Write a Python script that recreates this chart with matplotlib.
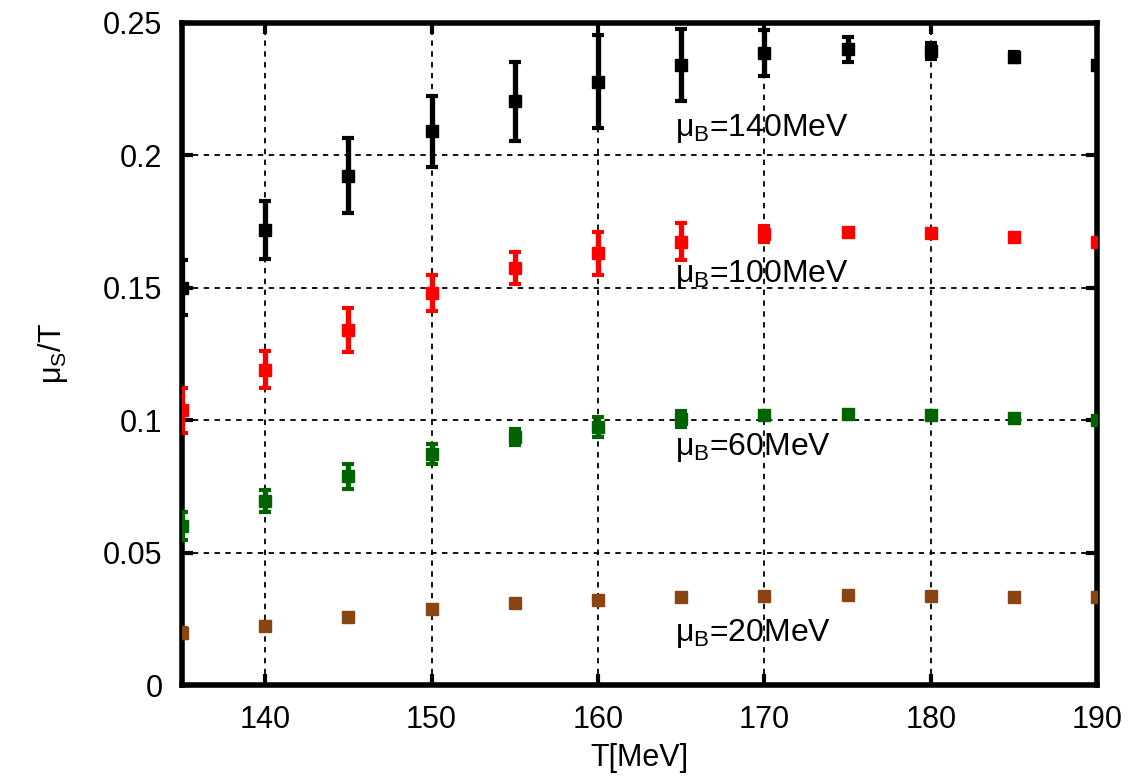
import numpy as np
import matplotlib.pyplot as plt

plt.rcParams['font.family'] = ['Liberation Sans', 'DejaVu Sans']
plt.rcParams['mathtext.fontset'] = 'custom'
plt.rcParams['mathtext.rm'] = 'Liberation Sans'
plt.rcParams['mathtext.it'] = 'Liberation Sans'

T = [135, 140, 145, 150, 155, 160, 165, 170, 175, 180, 185, 190]

# mu_B = 140 MeV
mu140 = [0.150, 0.1718, 0.1922, 0.2090, 0.2203, 0.2278, 0.2341, 0.2385, 0.2400, 0.2392, 0.2370, 0.2341]
err140 = [0.0105, 0.0108, 0.0142, 0.0134, 0.0150, 0.0175, 0.0135, 0.0086, 0.0047, 0.0030, 0.0020, 0.0010]
# mu_B = 100 MeV
mu100 = [0.1038, 0.1190, 0.1341, 0.1479, 0.1573, 0.1630, 0.1674, 0.1703, 0.1709, 0.1706, 0.1693, 0.1673]
err100 = [0.0085, 0.0070, 0.0082, 0.0067, 0.0061, 0.0082, 0.0069, 0.0030, 0.0010, 0.0008, 0.0006, 0.0005]
# mu_B = 60 MeV
mu60 = [0.0600, 0.0696, 0.0789, 0.0872, 0.0938, 0.0975, 0.1003, 0.1020, 0.1025, 0.1018, 0.1010, 0.1001]
err60 = [0.0053, 0.0041, 0.0047, 0.0038, 0.0030, 0.0038, 0.0030, 0.0012, 0.0008, 0.0008, 0.0006, 0.0005]
# mu_B = 20 MeV
mu20 = [0.0196, 0.0225, 0.0257, 0.0287, 0.0309, 0.0322, 0.0332, 0.0337, 0.0340, 0.0338, 0.0332, 0.0332]
err20 = [0.0020, 0.0012, 0.0010, 0.0008, 0.0006, 0.0006, 0.0005, 0.0005, 0.0005, 0.0004, 0.0004, 0.0004]

mu_b = [140, 100, 60, 20]
label_y = [0.2071, 0.1523, 0.0869, 0.0167]
colors = ['black', '#ff0000', '#006400', '#8b4513']
values = [mu140, mu100, mu60, mu20]
errors = [err140, err100, err60, err20]

fig = plt.figure(figsize=(11.3, 7.83), dpi=100)
ax = fig.add_axes([0.161, 0.125, 0.81, 0.846])

for y, e, c, mb, ylab in zip(values, errors, colors, mu_b, label_y):
    ax.errorbar(T, y, yerr=e, fmt='s', color=c, ms=8, mec=c,
                elinewidth=3.8, capsize=4, capthick=3, zorder=3)
    ax.text(164.6, ylab, r'$\mu_B$=%dMeV' % mb, fontsize=23, va='baseline', ha='left',
            zorder=4)

ax.set_xlim(135, 190)
ax.set_ylim(0, 0.25)
ax.set_xticks([140, 150, 160, 170, 180, 190])
ax.set_yticks([0, 0.05, 0.1, 0.15, 0.2, 0.25])
ax.set_yticklabels(['0', '0.05', '0.1', '0.15', '0.2', '0.25'])
ax.tick_params(direction='in', length=8, width=3, labelsize=22, top=True, right=True, pad=14)
ax.grid(True, color='black', linestyle=(0, (3, 3)), linewidth=1.3)
ax.set_axisbelow(True)
for s in ax.spines.values():
    s.set_linewidth(4)

ax.set_xlabel('T[MeV]', fontsize=22, labelpad=6)
ax.set_ylabel(r'$\mu_S$/T', fontsize=22, labelpad=24)

plt.savefig('out.png', dpi=100)
